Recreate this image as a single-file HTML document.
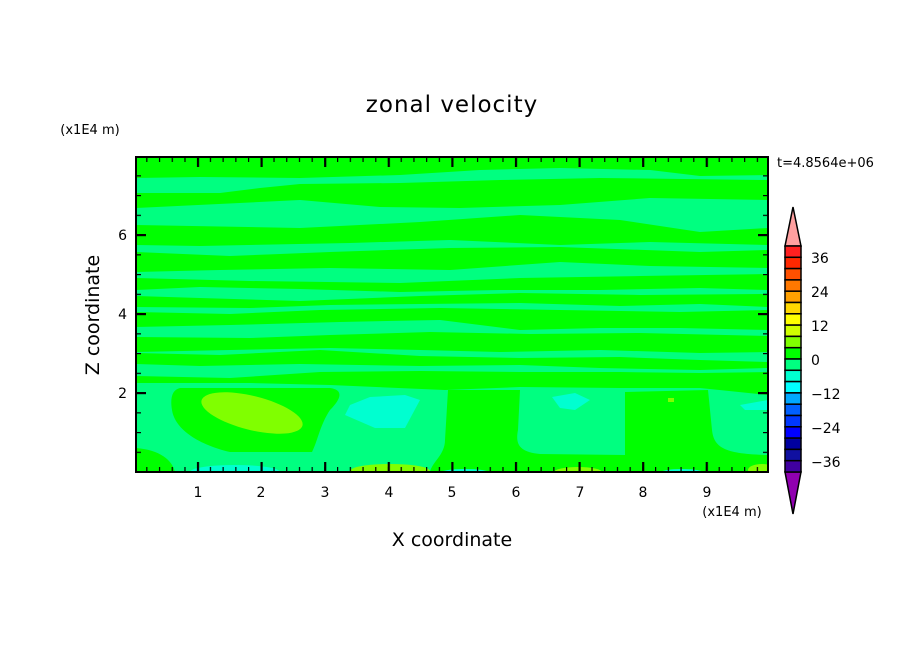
<!DOCTYPE html>
<html><head><meta charset="utf-8"><style>
html,body{margin:0;padding:0;background:#fff}
svg{display:block}
text{font-family:"DejaVu Sans","Liberation Sans",sans-serif;fill:#000}
</style></head><body>
<svg width="904" height="654" viewBox="0 0 904 654" xmlns="http://www.w3.org/2000/svg">
<defs>
<clipPath id="pc"><rect x="136" y="157" width="632" height="315"/></clipPath>
<pattern id="xmin" patternUnits="userSpaceOnUse" x="133.5" y="0" width="12.72" height="654"><rect x="0" y="0" width="1.2" height="654" fill="#000"/></pattern>
<pattern id="xmaj" patternUnits="userSpaceOnUse" x="133.3" y="0" width="63.6" height="654"><rect x="0" y="0" width="2.2" height="654" fill="#000"/></pattern>
<pattern id="ymin" patternUnits="userSpaceOnUse" x="0" y="471.5" width="904" height="19.75"><rect x="0" y="0" width="904" height="1.2" fill="#000"/></pattern>
<pattern id="ymaj" patternUnits="userSpaceOnUse" x="0" y="471" width="904" height="79"><rect x="0" y="0" width="904" height="2.2" fill="#000"/></pattern>
</defs>

<g clip-path="url(#pc)">
<rect x="136" y="157" width="632" height="315" fill="#00ff80"/>
<g fill="#00ff00">
<polygon points="136,157 768,157 768,175 700,176 650,170 560,168 480,170 400,175 300,178 200,177 136,178"/>
<polygon points="136,193 220,193 260,188 300,184 400,183 500,180 600,178 768,180 768,200 650,198 560,205 460,208 380,207 300,200 136,208"/>
<polygon points="136,225 300,228 420,222 520,215 620,220 700,232 768,228 768,245 650,242 560,245 450,240 350,243 200,246 136,245"/>
<polygon points="136,252 230,256 330,252 450,248 560,247 700,252 768,250 768,268 650,266 560,262 450,270 330,268 220,270 136,272"/>
<polygon points="136,278 250,281 400,283 520,278 640,276 768,274 768,290 700,288 600,290 500,290 400,292 300,289 200,287 136,290"/>
<polygon points="136,296 200,298 300,301 420,296 520,293 640,295 768,294 768,307 700,304 620,306 520,303 420,304 330,305 250,308 136,307"/>
<polygon points="136,312 230,314 320,310 440,308 560,310 680,312 768,310 768,330 680,328 600,328 520,330 440,320 340,322 230,325 136,327"/>
<polygon points="136,337 250,338 330,335 430,332 530,334 640,333 768,336 768,352 700,353 600,350 500,352 420,350 330,348 230,350 136,352"/>
<polygon points="136,353 220,355 320,350 420,356 520,358 620,357 700,360 768,362 768,368 700,370 600,368 520,365 420,366 300,364 200,366 136,364"/>
<polygon points="136,376 230,378 320,372 420,371 520,372 620,372 700,373 768,372 768,395 700,388 620,388 520,387 445,390 330,385 250,383 180,383 136,383"/>
<!-- bottom region -->
<path d="M180,388 L330,388 C345,390 340,400 330,410 C320,425 318,440 312,452 L230,452 C200,445 175,430 172,410 C170,398 172,390 180,388 Z"/>
<path d="M136,448 C160,450 172,460 175,472 L136,472 Z"/>
<path d="M448,390 L520,390 L518,430 C515,445 520,452 540,454 L625,455 L625,392 L708,390 L712,430 C714,448 725,454 768,455 L768,472 L430,472 C432,462 445,455 445,440 Z"/>
</g>
<g fill="#00ffd0">
<polygon points="350,405 370,397 405,395 420,400 405,428 375,428 345,415"/>
<polygon points="552,397 575,393 590,400 575,410 560,408"/>
<polygon points="740,405 768,400 768,410 745,410"/>
<ellipse cx="235" cy="472" rx="45" ry="7"/>
<ellipse cx="465" cy="473" rx="25" ry="4"/>
<ellipse cx="682" cy="473" rx="22" ry="4"/>
</g>
<g fill="#80ff00">
<ellipse cx="252" cy="413" rx="52" ry="17" transform="rotate(14 252 413)"/>
<ellipse cx="390" cy="471" rx="40" ry="7"/>
<ellipse cx="578" cy="472" rx="24" ry="5"/>
<ellipse cx="762" cy="470" rx="14" ry="6"/>
<rect x="668" y="398" width="6" height="4"/>
</g>
</g>

<!-- ticks -->
<g clip-path="url(#pc)">
<rect x="136" y="157" width="632" height="5" fill="url(#xmin)"/>
<rect x="136" y="467" width="632" height="5" fill="url(#xmin)"/>
<rect x="136" y="157" width="632" height="10" fill="url(#xmaj)"/>
<rect x="136" y="462" width="632" height="10" fill="url(#xmaj)"/>
<rect x="136" y="157" width="5" height="315" fill="url(#ymin)"/>
<rect x="763" y="157" width="5" height="315" fill="url(#ymin)"/>
<rect x="136" y="157" width="10" height="315" fill="url(#ymaj)"/>
<rect x="758" y="157" width="10" height="315" fill="url(#ymaj)"/>
</g>
<rect x="136" y="157" width="632" height="315" fill="none" stroke="#000" stroke-width="2"/>

<g font-size="14" text-anchor="middle">
<text x="198" y="497">1</text><text x="261" y="497">2</text><text x="325" y="497">3</text>
<text x="389" y="497">4</text><text x="452" y="497">5</text><text x="516" y="497">6</text>
<text x="580" y="497">7</text><text x="643" y="497">8</text><text x="707" y="497">9</text>
</g>
<g font-size="14" text-anchor="end">
<text x="127" y="398">2</text><text x="127" y="319">4</text><text x="127" y="240">6</text>
</g>
<text x="732" y="516" font-size="13" text-anchor="middle">(x1E4 m)</text>
<text x="90" y="134" font-size="13" text-anchor="middle">(x1E4 m)</text>
<text x="452" y="112" font-size="23" text-anchor="middle" letter-spacing="1">zonal velocity</text>
<text x="452" y="546" font-size="19" text-anchor="middle">X coordinate</text>
<text x="0" y="0" font-size="19" text-anchor="middle" transform="translate(99 315) rotate(-90)">Z coordinate</text>
<text x="777" y="167" font-size="13">t=4.8564e+06</text>

<!-- colorbar -->
<polygon points="793,207 785,246 801,246" fill="#ffa0a0" stroke="#000" stroke-width="1.5"/>
<polygon points="785,472 801,472 793,514" fill="#9000b0" stroke="#000" stroke-width="1.5"/>
<g stroke="#000" stroke-width="1.5">
<rect x="785" y="246" width="16" height="11.3" fill="#ff2020"/>
<rect x="785" y="257.3" width="16" height="11.3" fill="#ff2800"/>
<rect x="785" y="268.6" width="16" height="11.3" fill="#ff5000"/>
<rect x="785" y="279.9" width="16" height="11.3" fill="#ff7800"/>
<rect x="785" y="291.2" width="16" height="11.3" fill="#ffa000"/>
<rect x="785" y="302.5" width="16" height="11.3" fill="#ffd800"/>
<rect x="785" y="313.8" width="16" height="11.3" fill="#ffff00"/>
<rect x="785" y="325.1" width="16" height="11.3" fill="#d0ff00"/>
<rect x="785" y="336.4" width="16" height="11.3" fill="#80ff00"/>
<rect x="785" y="347.7" width="16" height="11.3" fill="#00ff00"/>
<rect x="785" y="359" width="16" height="11.3" fill="#00ff80"/>
<rect x="785" y="370.3" width="16" height="11.3" fill="#00ffd0"/>
<rect x="785" y="381.6" width="16" height="11.3" fill="#00ffff"/>
<rect x="785" y="392.9" width="16" height="11.3" fill="#00a8ff"/>
<rect x="785" y="404.2" width="16" height="11.3" fill="#0060ff"/>
<rect x="785" y="415.5" width="16" height="11.3" fill="#0038ff"/>
<rect x="785" y="426.8" width="16" height="11.3" fill="#0000ff"/>
<rect x="785" y="438.1" width="16" height="11.3" fill="#0000a0"/>
<rect x="785" y="449.4" width="16" height="11.3" fill="#1010a0"/>
<rect x="785" y="460.7" width="16" height="11.3" fill="#4000a0"/>
</g>
<g font-size="14">
<text x="811" y="263">36</text><text x="811" y="297">24</text><text x="811" y="331">12</text>
<text x="811" y="365">0</text><text x="811" y="399">−12</text><text x="811" y="433">−24</text><text x="811" y="467">−36</text>
</g>
</svg>
</body></html>
